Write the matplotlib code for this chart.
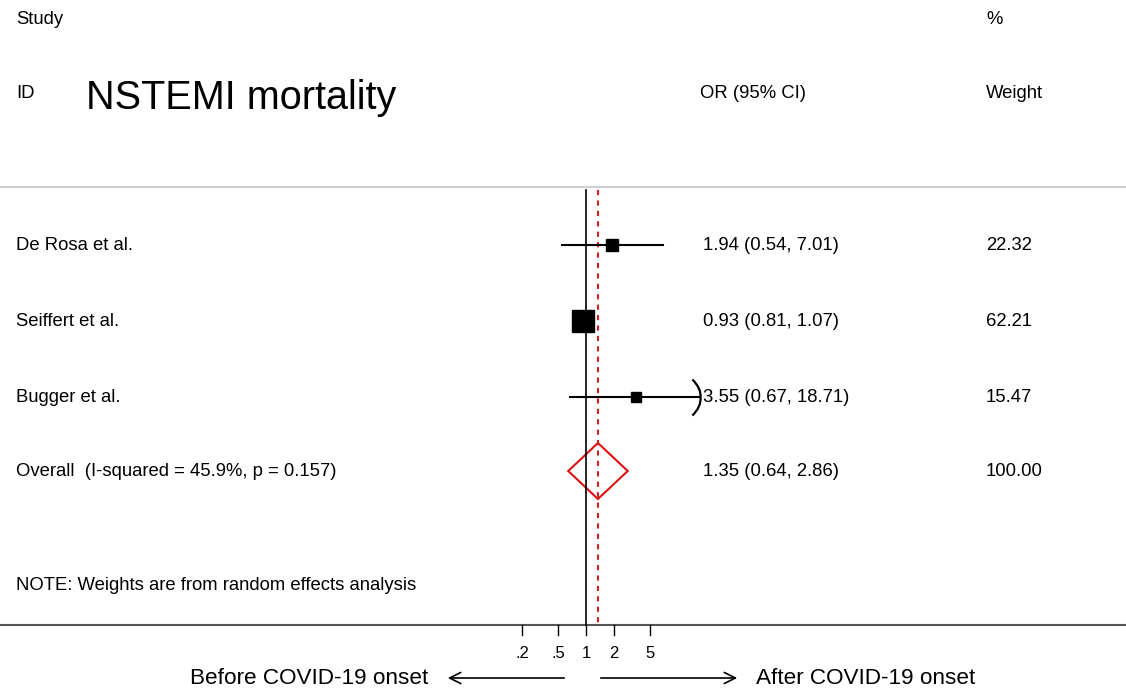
import numpy as np
import matplotlib
matplotlib.use("Agg")
import matplotlib.pyplot as plt
from matplotlib.path import Path

plt.rcParams['font.family'] = ['Liberation Sans', 'DejaVu Sans']

# datos del forest plot
estudios = ["De Rosa et al.", "Seiffert et al.", "Bugger et al."]
or_val = [1.94, 0.93, 3.55]
ci_low = [0.54, 0.81, 0.67]
ci_high = [7.01, 1.07, 18.71]
pesos = [22.32, 62.21, 15.47]

overall_label = "Overall  (I-squared = 45.9%, p = 0.157)"
overall_or = 1.35
overall_low = 0.64
overall_high = 2.86

ticks = [0.2, 0.5, 1, 2, 5]
tick_labels = [".2", ".5", "1", "2", "5"]
x_max = 17.6  # límite del eje (el IC se corta con flecha)

W, H = 1126, 688
fig = plt.figure(figsize=(W / 100, H / 100), dpi=100)
ax = fig.add_axes([0, 0, 1, 1])
ax.set_xscale("log")
# 1 en px 586, ~91.5 px por década
px_dec = 91.5
ax.set_xlim(10 ** (-586 / px_dec), 10 ** ((W - 586) / px_dec))
ax.set_ylim(H, 0)
ax.axis("off")

def xf(px):
    return px / W

fs = 13.3
# encabezados
fig.text(xf(16), 1 - 19 / H, "Study", fontsize=fs, va="center")
fig.text(xf(16), 1 - 94 / H, "ID", fontsize=fs, va="center")
fig.text(xf(86), 1 - 98 / H, "NSTEMI mortality", fontsize=28.5, va="center")
fig.text(xf(700), 1 - 94 / H, "OR (95% CI)", fontsize=fs, va="center")
fig.text(xf(986), 1 - 19 / H, "%", fontsize=fs, va="center")
fig.text(xf(986), 1 - 94 / H, "Weight", fontsize=fs, va="center")

# líneas horizontales
ax.axhline(187, color="#cfcfcf", lw=1.5)
ax.axhline(625, color="#555555", lw=1.5)

# línea de no efecto y línea del overall
ax.plot([1, 1], [190, 625], color="black", lw=1.2)
ax.plot([overall_or, overall_or], [190, 625], color="#cc2222", lw=1.5,
        dashes=(2.5, 2.5))

filas_y = [245, 321, 397]
flecha = Path([(-0.45, 1), (0.05, 0.5), (0, 0), (0.05, -0.5), (-0.45, -1)],
              [Path.MOVETO, Path.CURVE3, Path.CURVE3, Path.CURVE3, Path.CURVE3])

for i, est in enumerate(estudios):
    y = filas_y[i]
    hi = min(ci_high[i], x_max)
    ax.plot([ci_low[i], hi], [y, y], color="black", lw=1.5)
    if ci_high[i] > x_max:
        ax.plot([x_max], [y], marker=flecha, markersize=26, color="black",
                markerfacecolor="none", mew=1.6)
    lado = 2.75 * np.sqrt(pesos[i]) * 0.72
    ax.plot([or_val[i]], [y], marker="s", markersize=lado, color="black")
    fig.text(xf(16), 1 - y / H, est, fontsize=fs, va="center")
    fig.text(xf(703), 1 - y / H,
             f"{or_val[i]:.2f} ({ci_low[i]:.2f}, {ci_high[i]:.2f})",
             fontsize=fs, va="center")
    fig.text(xf(986), 1 - y / H, f"{pesos[i]:.2f}", fontsize=fs, va="center")

# diamante overall
yo = 471
dy = 28
ax.fill([overall_low, overall_or, overall_high, overall_or],
        [yo, yo - dy, yo, yo + dy], facecolor="none", edgecolor="#dd1111",
        lw=1.5)
fig.text(xf(16), 1 - yo / H, overall_label, fontsize=fs, va="center")
fig.text(xf(703), 1 - yo / H,
         f"{overall_or:.2f} ({overall_low:.2f}, {overall_high:.2f})",
         fontsize=fs, va="center")
fig.text(xf(986), 1 - yo / H, f"{sum(pesos):.2f}", fontsize=fs, va="center")

fig.text(xf(16), 1 - 586 / H, "NOTE: Weights are from random effects analysis",
         fontsize=fs, va="center")

# ticks del eje
for t, lab in zip(ticks, tick_labels):
    ax.plot([t, t], [625, 635], color="black", lw=1)
    ax.text(t, 653, lab, fontsize=12, ha="center", va="center")

# etiquetas inferiores con flechas
ax.annotate("", xy=(10 ** ((445 - 586) / px_dec), 678),
            xytext=(10 ** ((567 - 586) / px_dec), 678),
            arrowprops=dict(arrowstyle="->", lw=1.2, color="black",
                            mutation_scale=20))
ax.annotate("", xy=(10 ** ((740 - 586) / px_dec), 678),
            xytext=(10 ** ((598 - 586) / px_dec), 678),
            arrowprops=dict(arrowstyle="->", lw=1.2, color="black",
                            mutation_scale=20))
fig.text(xf(428), 1 - 678 / H, "Before COVID-19 onset", fontsize=16.2,
         ha="right", va="center")
fig.text(xf(756), 1 - 678 / H, "After COVID-19 onset", fontsize=16.2,
         ha="left", va="center")

fig.savefig("out.png", dpi=100)
